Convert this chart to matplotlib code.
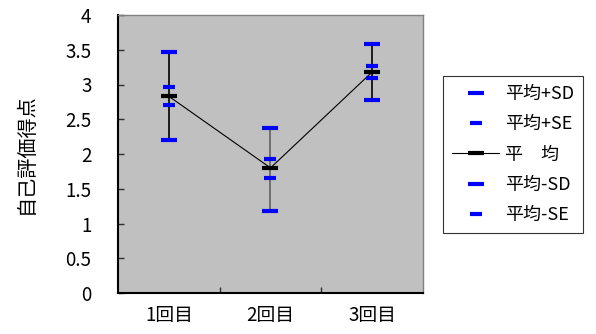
import matplotlib
matplotlib.use("Agg")
import matplotlib.pyplot as plt
from matplotlib.lines import Line2D

plt.rcParams['font.family'] = ['Noto Sans CJK JP', 'DejaVu Sans']

categories = ['1回目', '2回目', '3回目']
mean = [2.83, 1.80, 3.18]
plus_sd = [3.47, 2.38, 3.58]
minus_sd = [2.20, 1.18, 2.78]
plus_se = [2.97, 1.93, 3.26]
minus_se = [2.70, 1.66, 3.10]
y_ticks = [0, 0.5, 1, 1.5, 2, 2.5, 3, 3.5, 4]
y_labels = ['0', '0.5', '1', '1.5', '2', '2.5', '3', '3.5', '4']
legend_labels = ['平均+SD', '平均+SE', '平\u3000均', '平均-SD', '平均-SE']

fig = plt.figure(figsize=(5.96, 3.34), dpi=100)
ax = fig.add_axes([118/596, 1-293/334, 305/596, 278/334])
ax.set_facecolor('#c0c0c0')

x = list(range(len(categories)))
blue = '#0000ff'

# high-low lines
ax.vlines(x, minus_sd, plus_sd, colors=['black', '#606060', 'black'], lw=1.2, zorder=2)
ax.plot(x, mean, color='black', lw=0.8, zorder=3)

sd_kw = dict(linestyle='none', marker='_', markersize=11, mew=3, color=blue, zorder=4)
se_kw = dict(linestyle='none', marker='_', markersize=8, mew=3, color=blue, zorder=4)
ax.plot(x, plus_sd, **sd_kw)
ax.plot(x, plus_se, **se_kw)
ax.plot(x, mean, linestyle='none', marker='_', markersize=11, mew=3, color='black', zorder=5)
ax.plot(x, minus_sd, **sd_kw)
ax.plot(x, minus_se, **se_kw)

ax.set_xlim(-0.5, 2.5)
ax.set_ylim(0, 4)
ax.set_yticks(y_ticks)
ax.set_yticklabels(y_labels)
ax.set_xticks([0.5, 1.5])
ax.set_xticklabels([])
ax.set_xticks(x, minor=True)
ax.set_xticklabels(categories, minor=True)
ax.tick_params(axis='x', which='major', direction='in', length=4, width=1, color='#303030')
ax.tick_params(axis='x', which='minor', length=0, pad=9, labelsize=13.5)
ax.tick_params(axis='y', direction='in', length=4, width=1, color='#303030', pad=19, labelsize=13.5)

for side in ['top', 'right']:
    ax.spines[side].set_color('#808080')
    ax.spines[side].set_linewidth(1)
for side in ['left', 'bottom']:
    ax.spines[side].set_color('black')
    ax.spines[side].set_linewidth(1.5)

ax.set_ylabel('自己評価得点', fontsize=14.5)
ax.yaxis.set_label_coords(-0.265, 0.5)

hm = Line2D([], [], color='black', lw=0.8, marker='_', markersize=11, mew=3)
sd_h = Line2D([], [], linestyle='none', marker='_', markersize=11, mew=3, color=blue)
se_h = Line2D([], [], linestyle='none', marker='_', markersize=8, mew=3, color=blue)
leg = fig.legend([sd_h, se_h, hm, sd_h, se_h], legend_labels,
                 loc='upper left', bbox_to_anchor=(443/596, 1-76/334),
                 frameon=True, fancybox=False, edgecolor='black',
                 fontsize=13, labelspacing=0.68, handlelength=2.6,
                 handletextpad=0.35, borderpad=0.5, borderaxespad=0)
leg.get_frame().set_linewidth(0.8)

fig.savefig('out.png', dpi=100)
